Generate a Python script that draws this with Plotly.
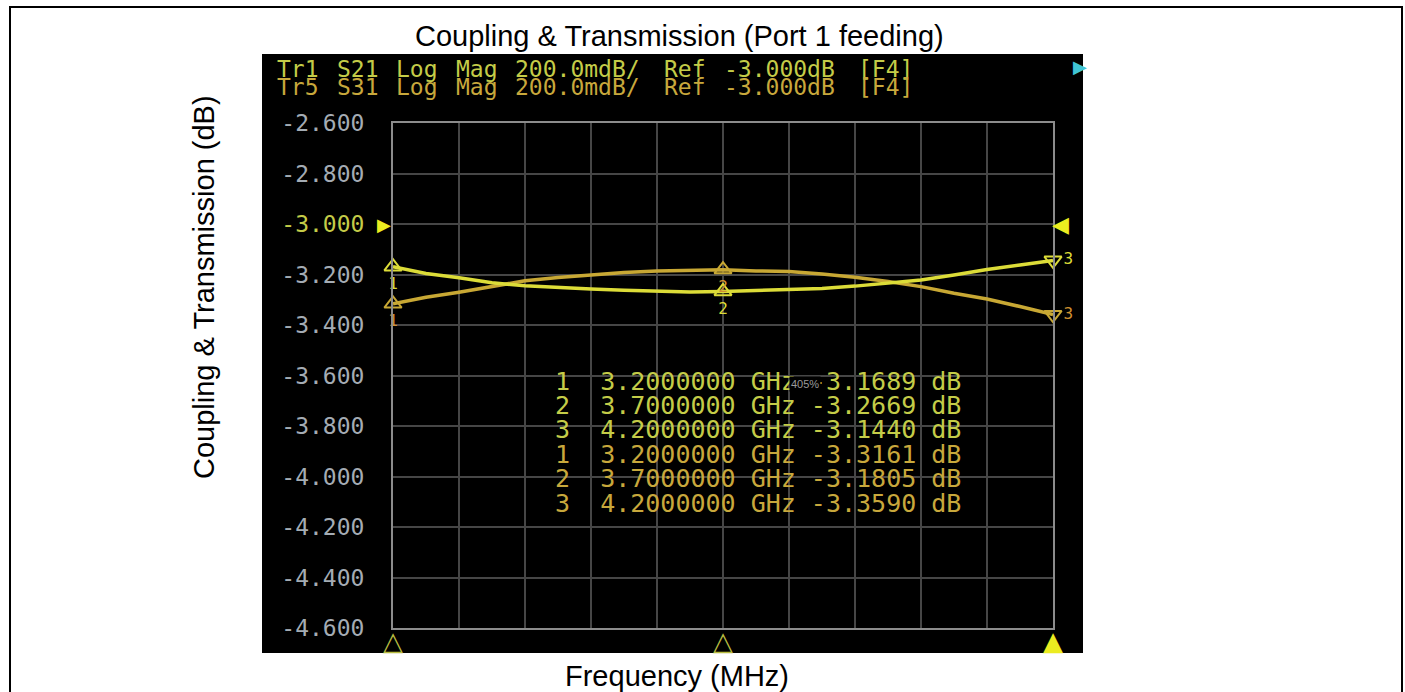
import re
import plotly.graph_objects as go

# ---------------- data ----------------
freq_mhz = [3200, 3250, 3300, 3350, 3400, 3450, 3500, 3550, 3600, 3650, 3700,
            3750, 3800, 3850, 3900, 3950, 4000, 4050, 4100, 4150, 4200]
s21_db = [-3.169, -3.196, -3.213, -3.233, -3.245, -3.252, -3.257, -3.262, -3.265, -3.269, -3.267,
          -3.264, -3.259, -3.255, -3.246, -3.235, -3.222, -3.202, -3.180, -3.162, -3.144]
s31_db = [-3.316, -3.290, -3.270, -3.246, -3.225, -3.212, -3.201, -3.192, -3.186, -3.185, -3.181,
          -3.186, -3.188, -3.198, -3.211, -3.228, -3.248, -3.274, -3.297, -3.327, -3.359]

marker_freqs = [3200, 3700, 4200]
marker_labels = ["1", "2", "3"]
s21_marker_db = [-3.1689, -3.2669, -3.1440]
s31_marker_db = [-3.3161, -3.1805, -3.3590]
stimulus_glyphs = ["△", "△", "▲"]

y_ticks = [-2.6, -2.8, -3.0, -3.2, -3.4, -3.6, -3.8, -4.0, -4.2, -4.4, -4.6]
ref_level = -3.0
x_range = [3200, 4200]
y_range = [-4.6, -2.6]

header_lines = ["Tr1 S21 Log Mag 200.0mdB/ Ref -3.000dB [F4]",
                "Tr5 S31 Log Mag 200.0mdB/ Ref -3.000dB [F4]"]
table_rows = [
    "1  3.2000000 GHz -3.1689 dB",
    "2  3.7000000 GHz -3.2669 dB",
    "3  4.2000000 GHz -3.1440 dB",
    "1  3.2000000 GHz -3.3161 dB",
    "2  3.7000000 GHz -3.1805 dB",
    "3  4.2000000 GHz -3.3590 dB",
]

title_text = "Coupling & Transmission (Port 1 feeding)"
x_title = "Frequency (MHz)"
y_title = "Coupling & Transmission (dB)"

# ---------------- layout geometry ----------------
W, H = 1405, 692
L, R, T, B = 393, 1053, 123, 628


def px_x(p):
    return (p - L) / (R - L)


def px_y(p):
    return (B - p) / (B - T)


C_A = "#dcdc38"
C_B = "#c8a834"
C_TXT1 = "#c4cc48"
C_TXT2 = "#c8a83c"
MONO = "DejaVu Sans Mono, monospace"
SANS = "Liberation Sans, Arial, sans-serif"

fig = go.Figure()

fig.add_trace(go.Scatter(x=freq_mhz, y=s31_db, mode="lines",
                         line=dict(color=C_B, width=3.5), hoverinfo="skip"))
fig.add_trace(go.Scatter(x=freq_mhz, y=s21_db, mode="lines",
                         line=dict(color=C_A, width=3.5), hoverinfo="skip"))

# markers on traces
sym_m = ["triangle-up-open", "triangle-up-open", "triangle-down-open"]
pos_m = ["bottom center", "bottom center", "middle right"]
fig.add_trace(go.Scatter(x=marker_freqs, y=s21_marker_db, mode="markers+text",
                         marker=dict(symbol=sym_m, size=15, color=C_A, line=dict(width=2, color=C_A)),
                         text=marker_labels, textposition=pos_m,
                         textfont=dict(family=MONO, size=16, color=C_A),
                         cliponaxis=False, hoverinfo="skip"))
fig.add_trace(go.Scatter(x=marker_freqs, y=s31_marker_db, mode="markers+text",
                         marker=dict(symbol=sym_m, size=15, color=C_B, line=dict(width=2, color=C_B)),
                         text=marker_labels, textposition=pos_m,
                         textfont=dict(family=MONO, size=16, color="#d09030"),
                         cliponaxis=False, hoverinfo="skip"))

ticktext = []
for v in y_ticks:
    s = f"{v:.3f}"
    if abs(v - ref_level) < 1e-9:
        s = f"<span style='color:{C_TXT1}'>{s}</span>"
    ticktext.append(s)

annotations = []
# header lines, words placed on the instrument's character grid
char_w = 14.9
for i, (line, col) in enumerate(zip(header_lines, [C_TXT1, C_TXT2])):
    for m in re.finditer(r"\S+", line):
        annotations.append(dict(
            x=px_x(275 + m.start() * char_w), y=px_y(69 + i * 18), xref="paper", yref="paper",
            text=m.group(0), showarrow=False, xanchor="left", yanchor="middle",
            font=dict(family=MONO, size=23, color=col)))

# marker table (monospace rows)
for i, row in enumerate(table_rows):
    col = C_TXT1 if i < 3 else C_TXT2
    annotations.append(dict(
        x=px_x(553), y=px_y(381 + i * 24.4), xref="paper", yref="paper",
        text=row.replace(" ", "\u00a0"), showarrow=False, xanchor="left", yanchor="middle",
        font=dict(family=MONO, size=25, color=col)))
annotations.append(dict(x=px_x(805), y=px_y(384), xref="paper", yref="paper", text="405%",
                        showarrow=False, xanchor="center", yanchor="middle", bgcolor="black",
                        font=dict(family=SANS, size=11, color="#9a9a9a")))

# stimulus markers below the grid
stim_cols = ["#b8bc40", "#b8bc40", "#ecec20"]
for f, g, c in zip(marker_freqs, stimulus_glyphs, stim_cols):
    annotations.append(dict(x=f, y=px_y(624), xref="x", yref="paper", text=g,
                            showarrow=False, xanchor="center", yanchor="top",
                            font=dict(family="DejaVu Sans", size=26, color=c)))

# reference level arrows
annotations.append(dict(x=px_x(384), y=ref_level, xref="paper", yref="y", text="▶",
                        showarrow=False, xanchor="center", yanchor="middle",
                        font=dict(family="DejaVu Sans", size=18, color="#ecec20")))
annotations.append(dict(x=px_x(1060), y=ref_level, xref="paper", yref="y", text="◀",
                        showarrow=False, xanchor="center", yanchor="middle",
                        font=dict(family="DejaVu Sans", size=22, color="#ecec20")))
annotations.append(dict(x=px_x(1080), y=px_y(67), xref="paper", yref="paper", text="▶",
                        showarrow=False, xanchor="center", yanchor="middle",
                        font=dict(family="DejaVu Sans", size=18, color="#40c4d4")))

# figure labels
annotations.append(dict(x=px_x(679), y=px_y(36), xref="paper", yref="paper", text=title_text,
                        showarrow=False, xanchor="center", yanchor="middle",
                        font=dict(family=SANS, size=29, color="black")))
annotations.append(dict(x=px_x(677), y=px_y(676), xref="paper", yref="paper", text=x_title,
                        showarrow=False, xanchor="center", yanchor="middle",
                        font=dict(family=SANS, size=29, color="black")))
annotations.append(dict(x=px_x(204), y=px_y(287), xref="paper", yref="paper", text=y_title,
                        showarrow=False, xanchor="center", yanchor="middle", textangle=-90,
                        font=dict(family=SANS, size=29, color="black")))

shapes = [
    dict(type="rect", xref="paper", yref="paper", layer="below",
         x0=px_x(262), x1=px_x(1083), y0=px_y(653), y1=px_y(54),
         fillcolor="black", line=dict(width=0)),
    dict(type="rect", xref="paper", yref="paper", layer="above",
         x0=px_x(10), x1=px_x(1402), y0=px_y(720), y1=px_y(7),
         fillcolor="rgba(0,0,0,0)", line=dict(width=2, color="black")),
]

fig.update_layout(
    width=W, height=H, autosize=False,
    margin=dict(l=L, r=W - R, t=T, b=H - B, pad=0),
    paper_bgcolor="white", plot_bgcolor="black",
    showlegend=False,
    annotations=annotations, shapes=shapes,
    xaxis=dict(range=x_range, tick0=3200, dtick=100, showticklabels=False, ticks="",
               showgrid=True, gridcolor="#464646", gridwidth=2, zeroline=False,
               showline=True, mirror=True, linecolor="#8c8c8c", linewidth=2),
    yaxis=dict(range=y_range, tickvals=y_ticks, ticktext=ticktext, ticks="",
               ticklabelstandoff=22,
               tickfont=dict(family=MONO, size=23, color="#a4acb4"),
               showgrid=True, gridcolor="#464646", gridwidth=2, zeroline=False,
               showline=True, mirror=True, linecolor="#8c8c8c", linewidth=2),
)

fig.write_html("out.html")
